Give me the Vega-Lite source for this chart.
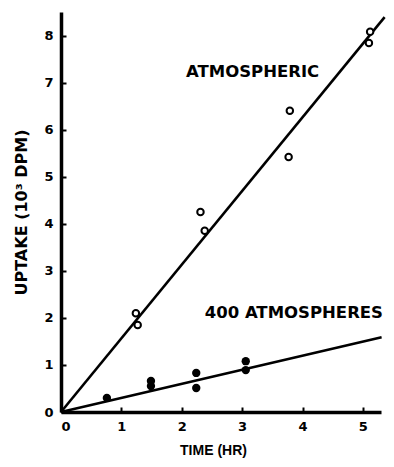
{
  "$schema": "https://vega.github.io/schema/vega-lite/v6.json",
  "width": 320,
  "height": 400,
  "autosize": {"type": "none"},
  "padding": {"left": 61, "top": 12, "right": 13, "bottom": 55},
  "background": "white",
  "config": {
    "view": {"stroke": null},
    "font": "DejaVu Sans"
  },
  "datasets": {
    "atmospheric": [
      {"t": 1.24, "u": 2.10},
      {"t": 1.27, "u": 1.85},
      {"t": 2.31, "u": 4.25},
      {"t": 2.38, "u": 3.85},
      {"t": 3.79, "u": 6.40},
      {"t": 3.77, "u": 5.42},
      {"t": 5.12, "u": 8.08},
      {"t": 5.10, "u": 7.84}
    ],
    "pressure400": [
      {"t": 0.76, "u": 0.30},
      {"t": 1.49, "u": 0.66},
      {"t": 1.49, "u": 0.55},
      {"t": 2.24, "u": 0.83},
      {"t": 2.24, "u": 0.51},
      {"t": 3.06, "u": 1.08},
      {"t": 3.06, "u": 0.89}
    ],
    "fits": [
      {"series": "atm", "t0": 0, "u0": 0, "t1": 5.36, "u1": 8.39},
      {"series": "400", "t0": 0, "u0": 0, "t1": 5.31, "u1": 1.59}
    ],
    "labels": [
      {"text": "ATMOSPHERIC", "t": 2.07, "u": 7.23},
      {"text": "400 ATMOSPHERES", "t": 2.38, "u": 2.10}
    ]
  },
  "layer": [
    {
      "data": {"name": "fits"},
      "mark": {"type": "rule", "color": "black", "strokeWidth": 2.6, "clip": false},
      "encoding": {
        "x": {
          "field": "t0", "type": "quantitative",
          "scale": {"domain": [0, 5.3], "nice": false, "zero": true},
          "axis": {
            "title": "TIME (HR)",
            "values": [0, 1, 2, 3, 4, 5],
            "format": "d",
            "grid": false,
            "domainColor": "black",
            "domainWidth": 3.5,
            "tickColor": "black",
            "tickWidth": 2,
            "tickSize": -5,
            "labelPadding": 13,
            "labelFont": "DejaVu Sans",
            "labelFontWeight": "bold",
            "labelFontSize": 13,
            "labelColor": "black",
            "titleFont": "Liberation Sans",
            "titleFontWeight": "bold",
            "titleFontSize": 14,
            "titleColor": "black",
            "titlePadding": 10,
            "titleX": 152
          }
        },
        "x2": {"field": "t1"},
        "y": {
          "field": "u0", "type": "quantitative",
          "scale": {"domain": [0, 8.5], "nice": false, "zero": true},
          "axis": {
            "title": "UPTAKE (10³ DPM)",
            "values": [0, 1, 2, 3, 4, 5, 6, 7, 8],
            "format": "d",
            "grid": false,
            "domainColor": "black",
            "domainWidth": 3.5,
            "tickColor": "black",
            "tickWidth": 2,
            "tickSize": -5,
            "labelPadding": 13,
            "labelFont": "DejaVu Sans",
            "labelFontWeight": "bold",
            "labelFontSize": 13,
            "labelColor": "black",
            "titleFont": "DejaVu Sans",
            "titleFontWeight": "bold",
            "titleFontSize": 16,
            "titleColor": "black",
            "titlePadding": 14
          }
        },
        "y2": {"field": "u1"}
      }
    },
    {
      "data": {"name": "atmospheric"},
      "mark": {"type": "point", "shape": "circle", "filled": true, "fill": "white", "stroke": "black", "strokeWidth": 2, "size": 42, "opacity": 1},
      "encoding": {
        "x": {"field": "t", "type": "quantitative"},
        "y": {"field": "u", "type": "quantitative"}
      }
    },
    {
      "data": {"name": "pressure400"},
      "mark": {"type": "point", "shape": "circle", "filled": true, "color": "black", "size": 70, "opacity": 1},
      "encoding": {
        "x": {"field": "t", "type": "quantitative"},
        "y": {"field": "u", "type": "quantitative"}
      }
    },
    {
      "data": {"name": "labels"},
      "mark": {"type": "text", "align": "left", "baseline": "middle", "font": "DejaVu Sans", "fontWeight": "bold", "fontSize": 16.5, "color": "black", "clip": false},
      "encoding": {
        "x": {"field": "t", "type": "quantitative"},
        "y": {"field": "u", "type": "quantitative"},
        "text": {"field": "text"}
      }
    }
  ]
}
